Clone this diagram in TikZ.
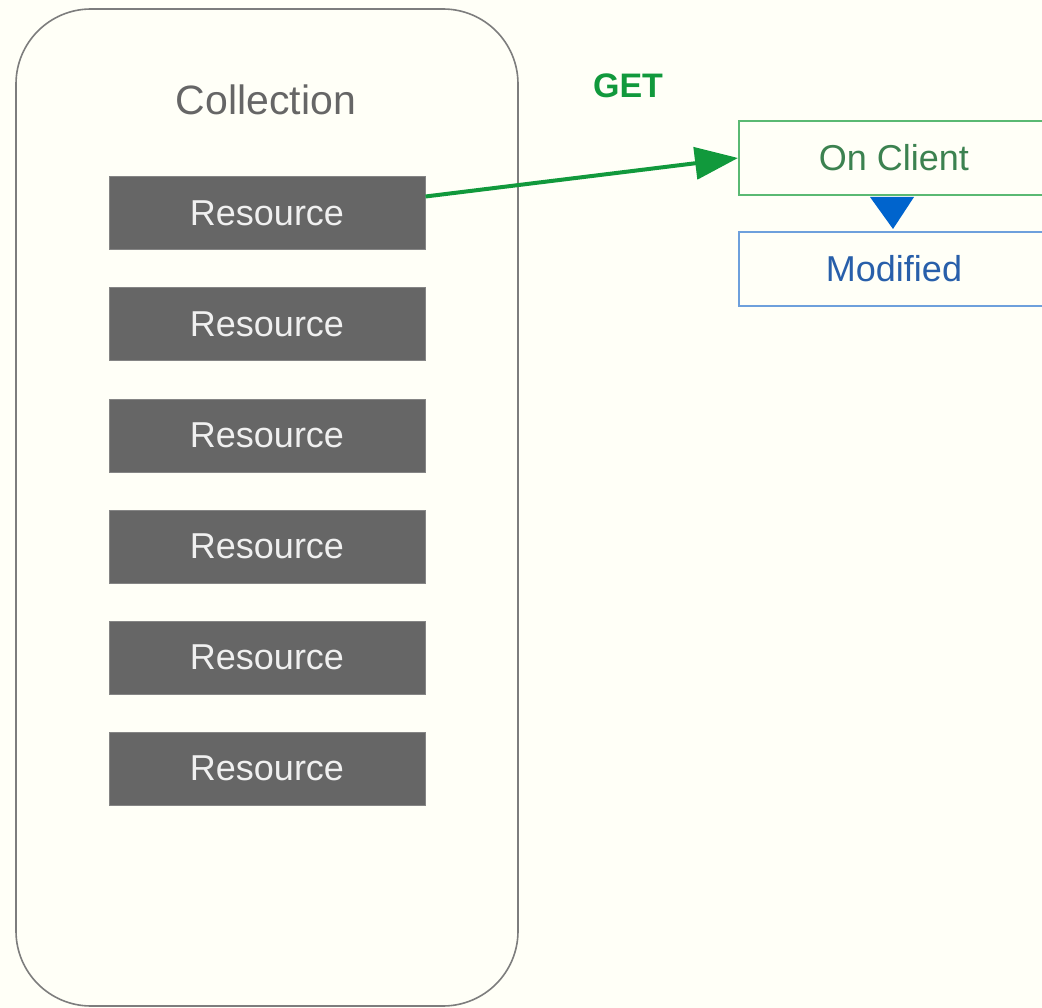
\documentclass[tikz,border=0pt]{standalone}
\usepackage{fontspec}
\setmainfont{Liberation Sans}
\usetikzlibrary{arrows.meta,calc}
\definecolor{bgc}{RGB}{255,255,247}
\definecolor{framec}{RGB}{125,125,125}
\definecolor{titlec}{RGB}{102,102,102}
\definecolor{resfill}{RGB}{102,102,102}
\definecolor{restext}{RGB}{240,240,240}
\definecolor{getgreen}{RGB}{17,153,60}
\definecolor{clientborder}{RGB}{90,185,115}
\definecolor{clienttext}{RGB}{60,130,80}
\definecolor{modborder}{RGB}{110,160,220}
\definecolor{modtext}{RGB}{40,95,170}
\definecolor{tipblue}{RGB}{0,100,205}
\tikzset{
  resbox/.style={draw=resfill!80!white, line width=1pt, fill=resfill, text=restext,
    minimum width=316pt, minimum height=73pt, inner sep=0pt,
    font=\fontsize{36}{43}\selectfont},
  statebox/.style={line width=2pt, fill=bgc, minimum width=310pt, minimum height=74pt,
    inner sep=0pt, anchor=west, font=\fontsize{36}{43}\selectfont},
}
\begin{document}
\begin{tikzpicture}[x=1pt, y=-1pt]
  % canvas
  \fill[bgc] (0,0) rectangle (1042,1008);
  \useasboundingbox (0,0) rectangle (1042,1008);

  % collection container
  \draw[framec, line width=1.6pt, rounded corners=75pt] (16,9) rectangle (518,1006);
  \node[text=titlec, font=\fontsize{41}{49}\selectfont] (title) at (266,100) {Collection};

  % resources
  \foreach \i in {0,...,5} {
    \node[resbox] (r\i) at (267,{213.5+111*\i}) {Resource};
  }

  % client states
  \node[statebox, draw=clientborder, text=clienttext] (client) at (738,158) {On Client};
  \node[statebox, draw=modborder, text=modtext] (mod) at (738,269) {Modified};

  % transition marker between the two states
  \fill[tipblue] ($(client.south west)+(132,1)$) -- ($(client.south west)+(176,1)$)
    -- ($(mod.north west)+(155,-2)$) -- cycle;

  % GET request
  \draw[getgreen, line width=4pt, -{Triangle[length=43pt, width=32pt]}]
    ([yshift=17pt]r0.east) -- (client.west);
  \node[text=getgreen, font=\bfseries\fontsize{34}{41}\selectfont] (get) at (628,86) {GET};
\end{tikzpicture}
\end{document}
